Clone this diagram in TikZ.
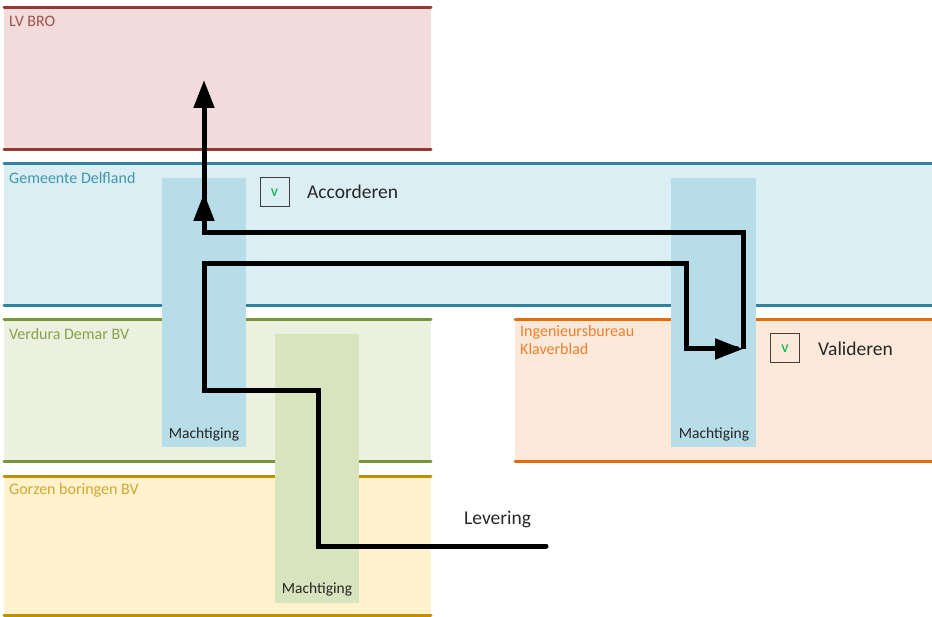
\documentclass[tikz,border=0pt]{standalone}
\usepackage{fontspec}
\setmainfont{Carlito}
\usetikzlibrary{arrows.meta}
\definecolor{brofill}{HTML}{F2DCDB}\definecolor{broline}{HTML}{953735}\definecolor{brotext}{HTML}{A3504D}
\definecolor{gdfill}{HTML}{DAEEF3}\definecolor{gdline}{HTML}{31849B}\definecolor{gdtext}{HTML}{3F97B3}
\definecolor{vdfill}{HTML}{EBF1DE}\definecolor{vdline}{HTML}{77933C}\definecolor{vdtext}{HTML}{86A24A}
\definecolor{gbfill}{HTML}{FFF2CC}\definecolor{gbline}{HTML}{BF9000}\definecolor{gbtext}{HTML}{D2A630}
\definecolor{ikfill}{HTML}{FDE9D9}\definecolor{ikline}{HTML}{E46C0A}\definecolor{iktext}{HTML}{EE7F2E}
\definecolor{colblue}{HTML}{B7DDE8}\definecolor{colgreen}{HTML}{D7E4BD}
\definecolor{checkgreen}{HTML}{00B050}
\tikzset{
  laneline/.style={line width=3pt,line cap=round},
  lanelabel/.style={anchor=west,inner sep=0pt,font=\fontsize{16}{18}\selectfont,align=left},
  coltext/.style={inner sep=0pt,font=\fontsize{15.5}{17}\selectfont,text=black!85},
  flow/.style={line width=5pt,line join=miter},
  flowtip/.style={-{Triangle[length=28pt,width=20pt]}},
  bigtext/.style={anchor=west,inner sep=0pt,font=\fontsize{19.5}{22}\selectfont,text=black!85},
  checkbox/.style={draw=black!75,line width=1pt,minimum width=29pt,minimum height=29pt,inner sep=0pt,text=checkgreen,font=\fontsize{16}{18}\selectfont}
}
\begin{document}
\begin{tikzpicture}[x=1pt,y=-1pt]
\useasboundingbox (0,0) rectangle (932,617);
% lanes
\fill[brofill] (4,8) rectangle (431,150);
\fill[gdfill] (4,164) rectangle (932,306);
\fill[vdfill] (4,320) rectangle (431,462);
\fill[gbfill] (4,476) rectangle (431,615);
\fill[ikfill] (515,320) rectangle (932,462);
\draw[laneline,broline] (4,8) -- (431,8) (4,150) -- (431,150);
\draw[laneline,gdline] (4,164) -- (935,164) (4,306) -- (935,306);
\draw[laneline,vdline] (4,320) -- (431,320) (4,462) -- (431,462);
\draw[laneline,gbline] (4,476) -- (431,476) (4,615) -- (431,615);
\draw[laneline,ikline] (515,320) -- (935,320) (515,462) -- (935,462);
% lane labels
\node[lanelabel,text=brotext] (lbro) at (9,21) {LV BRO};
\node[lanelabel,text=gdtext] (lgd) at (9,178) {Gemeente Delfland};
\node[lanelabel,text=vdtext] (lvd) at (9,334) {Verdura Demar BV};
\node[lanelabel,text=gbtext] (lgb) at (9,490) {Gorzen boringen BV};
\node[lanelabel,text=iktext,anchor=north west] (lik) at (520,325) {Ingenieursbureau\\Klaverblad};
% Machtiging columns
\fill[colblue] (162,178) rectangle (246,447);
\fill[colgreen] (275,334) rectangle (359,603);
\fill[colblue] (671,178) rectangle (756,447);
\node[coltext] (m1) at (204,434) {Machtiging};
\node[coltext] (m2) at (317,589) {Machtiging};
\node[coltext] (m3) at (714,434) {Machtiging};
% checkboxes and labels
\node[checkbox] (cb1) at (274.5,192.5) {v};
\node[bigtext] (acc) at (307,192) {Accorderen};
\node[checkbox] (cb2) at (785,348.5) {v};
\node[bigtext] (val) at (818,349) {Valideren};
\node[bigtext] (lev) at (464,519) {Levering};
% flow coordinates
\coordinate (ls) at (546,546);
\coordinate (p1) at (318,546);
\coordinate (p2) at (318,391);
\coordinate (p3) at (204,391);
\coordinate (p4) at (204,264);
\coordinate (p5) at (686,264);
\coordinate (p6) at (686,349);
\coordinate (vt) at (743,349);
\coordinate (q1) at (743,233);
\coordinate (q2) at (204,233);
\coordinate (at1) at (204,193);
\coordinate (at2) at (204,80);
\draw[flow,line cap=round] (ls) -- (p1) -- (p2) -- (p3) -- (p4) -- (p5) -- (p6) -- ([xshift=-6pt]vt);
\draw[flow,flowtip] (p6) -- (vt);
\draw[flow] (vt) -- (q1) -- (q2) -- ([yshift=8pt]at1);
\draw[flow,flowtip] (q2) -- (at1);
\draw[flow,flowtip] (at1) -- (at2);
\end{tikzpicture}
\end{document}
